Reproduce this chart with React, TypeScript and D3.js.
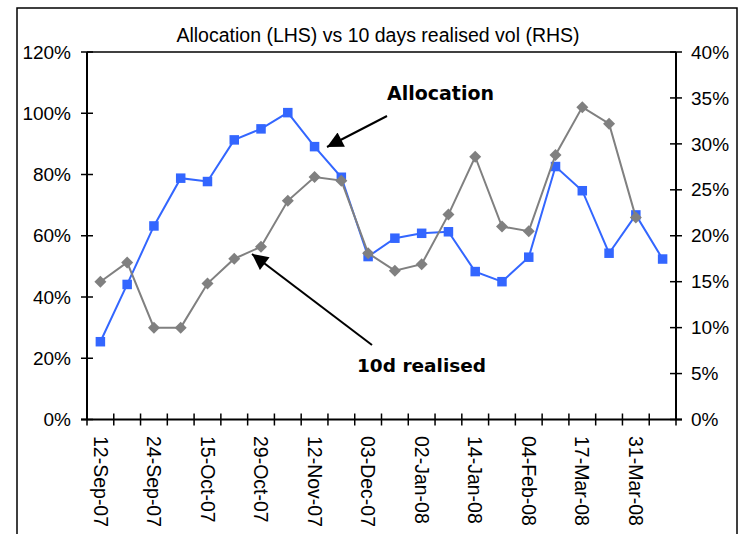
import React from "react";
import * as d3 from "d3";

// Weekly observations, Sep-07 to Apr-08
const tickLabels = [
  "12-Sep-07", "24-Sep-07", "15-Oct-07", "29-Oct-07", "12-Nov-07", "03-Dec-07",
  "02-Jan-08", "14-Jan-08", "04-Feb-08", "17-Mar-08", "31-Mar-08",
];
// Allocation in % (left axis)
const allocation = [
  25.4, 44.1, 63.2, 78.8, 77.7, 91.3, 94.9, 100.2, 89.1, 79.1, 53.2,
  59.2, 60.8, 61.3, 48.3, 45.0, 53.0, 82.6, 74.7, 54.3, 66.8, 52.4,
];
// 10 days realised volatility in % (right axis)
const realisedVol = [
  15.0, 17.1, 10.0, 10.0, 14.8, 17.5, 18.8, 23.8, 26.4, 26.0, 18.1,
  16.2, 16.9, 22.3, 28.6, 21.0, 20.5, 28.8, 34.0, 32.2, 22.0,
];
const leftTicks = [0, 20, 40, 60, 80, 100, 120];
const rightTicks = [0, 5, 10, 15, 20, 25, 30, 35, 40];

const W = 742;
const H = 534;
const plot = { left: 87, right: 676, top: 52, bottom: 419.5 };
const FONT = "'Liberation Sans', Arial, sans-serif";
const BOLD_FONT = "'DejaVu Sans', Verdana, sans-serif";
const BLUE = "#3366FF";
const GREY = "#808080";

export default function App() {
  const n = allocation.length;
  const x = d3.scaleBand<number>().domain(d3.range(n)).range([plot.left, plot.right]);
  const cx = (i: number) => (x(i) as number) + x.bandwidth() / 2;
  const yL = d3.scaleLinear().domain([0, 120]).range([plot.bottom, plot.top]);
  const yR = d3.scaleLinear().domain([0, 40]).range([plot.bottom, plot.top]);

  const allocLine = d3.line<number>().x((_, i) => cx(i)).y((d) => yL(d));
  const volLine = d3.line<number>().x((_, i) => cx(i)).y((d) => yR(d));

  const boundaries = d3.range(n + 1).map((i) => plot.left + i * x.step());
  const sq = 9.5;
  const dr = 6;

  return (
    <svg
      width={W}
      height={H}
      style={{ position: "absolute", left: 0, top: 0, background: "#fff" }}
    >
      <rect x={0} y={0} width={W} height={H} fill="#fff" />
      {/* outer chart frame */}
      <rect x={17} y={8} width={720} height={560} fill="none" stroke="#000" strokeWidth={1.5} />

      <text x={378} y={42} textAnchor="middle" fontFamily={FONT} fontSize={19.5} fill="#000">
        Allocation (LHS) vs 10 days realised vol (RHS)
      </text>

      {/* plot frame */}
      <line x1={plot.left} x2={plot.right} y1={plot.top} y2={plot.top} stroke="#000" strokeWidth={1.5} />
      <line x1={plot.left} x2={plot.left} y1={plot.top} y2={plot.bottom} stroke="#000" strokeWidth={2} />
      <line x1={plot.right} x2={plot.right} y1={plot.top} y2={plot.bottom} stroke="#000" strokeWidth={2} />
      <line x1={plot.left - 6} x2={plot.right + 6} y1={plot.bottom} y2={plot.bottom} stroke="#000" strokeWidth={2} />

      {/* left axis */}
      {leftTicks.map((t) => (
        <g key={"l" + t}>
          <line x1={plot.left - 6} x2={plot.left + 6} y1={yL(t)} y2={yL(t)} stroke="#000" strokeWidth={1.5} />
          <text x={71} y={yL(t)} dy="0.35em" textAnchor="end" fontFamily={FONT} fontSize={19}>
            {t}%
          </text>
        </g>
      ))}
      {/* right axis */}
      {rightTicks.map((t) => (
        <g key={"r" + t}>
          <line x1={plot.right - 6} x2={plot.right + 6} y1={yR(t)} y2={yR(t)} stroke="#000" strokeWidth={1.5} />
          <text x={691} y={yR(t)} dy="0.35em" textAnchor="start" fontFamily={FONT} fontSize={19}>
            {t}%
          </text>
        </g>
      ))}
      {/* category axis */}
      {boundaries.map((bx, i) => (
        <line key={"b" + i} x1={bx} x2={bx} y1={plot.bottom - 6} y2={plot.bottom + 6} stroke="#000" strokeWidth={1.5} />
      ))}
      {tickLabels.map((lab, k) => (
        <text
          key={lab}
          transform={`translate(${cx(k * 2)},${436}) rotate(90)`}
          dy="0.35em"
          textAnchor="start"
          fontFamily={FONT}
          fontSize={19.5}
        >
          {lab}
        </text>
      ))}

      {/* allocation series */}
      <path d={allocLine(allocation) || ""} fill="none" stroke={BLUE} strokeWidth={2} />
      {allocation.map((v, i) => (
        <rect key={"a" + i} x={cx(i) - sq / 2} y={yL(v) - sq / 2} width={sq} height={sq} fill={BLUE} />
      ))}

      {/* realised vol series */}
      <path d={volLine(realisedVol) || ""} fill="none" stroke={GREY} strokeWidth={2} />
      {realisedVol.map((v, i) => {
        const px = cx(i);
        const py = yR(v);
        return (
          <path
            key={"v" + i}
            d={`M${px},${py - dr}L${px + dr},${py}L${px},${py + dr}L${px - dr},${py}Z`}
            fill={GREY}
          />
        );
      })}

      {/* annotations */}
      <defs>
        <marker id="arrowHead" viewBox="0 0 10 10" refX={10} refY={5} markerWidth={9} markerHeight={8} markerUnits="strokeWidth" orient="auto">
          <path d="M0,0L10,5L0,10Z" fill="#000" />
        </marker>
      </defs>
      <text x={387} y={100} fontFamily={BOLD_FONT} fontWeight="bold" fontSize={19}>
        Allocation
      </text>
      <line x1={387} y1={116} x2={327} y2={147} stroke="#000" strokeWidth={2} markerEnd="url(#arrowHead)" />
      <text x={357} y={372} fontFamily={BOLD_FONT} fontWeight="bold" fontSize={18.5}>
        10d realised
      </text>
      <line x1={372} y1={345} x2={252} y2={254} stroke="#000" strokeWidth={2} markerEnd="url(#arrowHead)" />
    </svg>
  );
}
